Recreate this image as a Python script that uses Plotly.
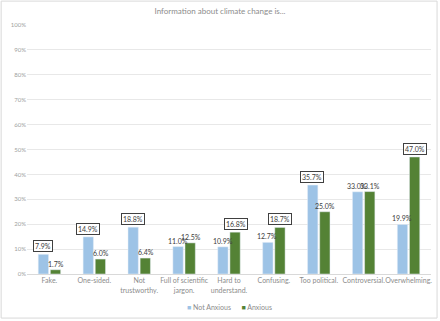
import plotly.graph_objects as go

categories = ["Fake.", "One-sided.", "Not<br>trustworthy.", "Full of scientific<br>jargon.",
              "Hard to<br>understand.", "Confusing.", "Too political.", "Controversial.", "Overwhelming."]
not_anxious = [7.9, 14.9, 18.8, 11.0, 10.9, 12.7, 35.7, 33.0, 19.9]
anxious = [1.7, 6.0, 6.4, 12.5, 16.8, 18.7, 25.0, 33.1, 47.0]
boxed_not_anxious = [True, True, True, False, False, False, True, False, False]
boxed_anxious = [False, False, False, False, True, True, False, False, True]
series_names = ["Not Anxious", "Anxious"]
y_ticks = list(range(0, 101, 10))

FONT = "Lato, Liberation Sans, sans-serif"
COLORS = ["#9DC3E6", "#548235"]

fig = go.Figure()
for name, vals, col in zip(series_names, [not_anxious, anxious], COLORS):
    fig.add_trace(go.Bar(x=categories, y=vals, name=name, marker_color=col, showlegend=False))

slot_shift = 6.5
anns = []
for series, boxed, shift in [(not_anxious, boxed_not_anxious, -slot_shift), (anxious, boxed_anxious, slot_shift)]:
    for cat, v, b in zip(categories, series, boxed):
        anns.append(dict(
            x=cat, y=v, xref="x", yref="y", text=f"{v:.1f}%", showarrow=False,
            xshift=shift, yshift=2 if b else 1, yanchor="bottom",
            font=dict(family=FONT, size=7, color="#404040"),
            bordercolor="#404040" if b else "rgba(0,0,0,0)", borderwidth=1 if b else 0,
            borderpad=1, bgcolor="white" if b else "rgba(0,0,0,0)",
        ))

# compact legend as text
legend_text = "\u2003\u2003".join(
    f"<span style='color:{c}'>■</span> {n}" for n, c in zip(series_names, COLORS))
anns.append(dict(x=0.5, y=-0.1325, xref="paper", yref="paper", text=legend_text, showarrow=False,
                 xanchor="center", yanchor="middle",
                 font=dict(family=FONT, size=7, color="#8C8C8C")))

fig.update_layout(
    width=440, height=321, autosize=False,
    margin=dict(l=27, r=9, t=25, b=47, autoexpand=False),
    paper_bgcolor="white", plot_bgcolor="white",
    title=dict(text="Information about climate change is...", x=0.5, xanchor="center",
               y=0.966, yanchor="middle", font=dict(family=FONT, size=8, color="#8C8C8C")),
    barmode="group", bargap=0.46, bargroupgap=0.15,
    font=dict(family=FONT, size=7, color="#8C8C8C"),
    showlegend=False,
    annotations=anns,
    shapes=[dict(type="rect", xref="paper", yref="paper", x0=-0.064, x1=1.015, y0=-0.177, y1=1.096,
                 line=dict(color="#D9D9D9", width=1), layer="below")],
)
fig.update_xaxes(showgrid=False, showline=True, linecolor="#D9D9D9", ticks="", tickangle=0,
                 automargin=False, tickfont=dict(family=FONT, size=7, color="#8C8C8C"))
fig.update_yaxes(range=[0, 100], tickvals=y_ticks, ticktext=[f"{t}%" for t in y_ticks],
                 showgrid=True, gridcolor="#E8E8E8", zeroline=False, ticks="", automargin=False,
                 tickfont=dict(family=FONT, size=6, color="#A0A0A0"))

fig.write_html("out.html", config={"displayModeBar": False},
               post_script="document.body.style.margin='0';document.body.style.overflow='hidden';")
